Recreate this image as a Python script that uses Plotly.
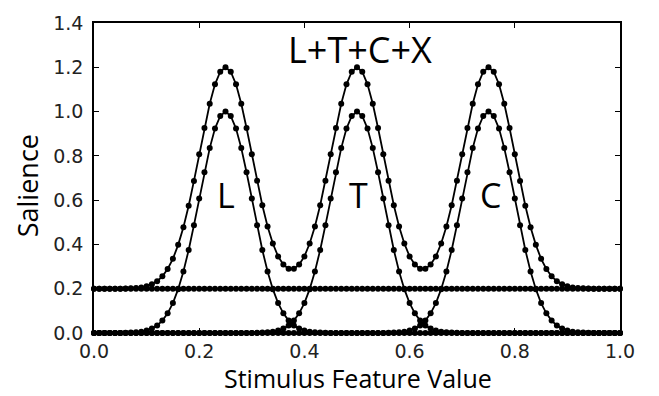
import plotly.graph_objects as go

# Stimulus feature value samples (0.00 .. 1.00, step 0.01)
x_vals = [i / 100 for i in range(101)]

L_vals = [
    0, 0, 0, 0, 0, 0, 0.001, 0.002, 0.003, 0.006,
    0.011, 0.020, 0.034, 0.056, 0.089, 0.135, 0.198, 0.278, 0.375, 0.487,
    0.607, 0.726, 0.835, 0.923, 0.980, 1.000, 0.980, 0.923, 0.835, 0.726,
    0.607, 0.487, 0.375, 0.278, 0.198, 0.135, 0.089, 0.056, 0.034, 0.020,
    0.011, 0.006, 0.003, 0.002, 0.001, 0, 0, 0, 0, 0,
    0, 0, 0, 0, 0, 0, 0, 0, 0, 0,
    0, 0, 0, 0, 0, 0, 0, 0, 0, 0,
    0, 0, 0, 0, 0, 0, 0, 0, 0, 0,
    0, 0, 0, 0, 0, 0, 0, 0, 0, 0,
    0, 0, 0, 0, 0, 0, 0, 0, 0, 0,
    0,
]

T_vals = [
    0, 0, 0, 0, 0, 0, 0, 0, 0, 0,
    0, 0, 0, 0, 0, 0, 0, 0, 0, 0,
    0, 0, 0, 0, 0, 0, 0, 0, 0, 0,
    0, 0.001, 0.002, 0.003, 0.006, 0.011, 0.020, 0.034, 0.056, 0.089,
    0.135, 0.198, 0.278, 0.375, 0.487, 0.607, 0.726, 0.835, 0.923, 0.980,
    1.000, 0.980, 0.923, 0.835, 0.726, 0.607, 0.487, 0.375, 0.278, 0.198,
    0.135, 0.089, 0.056, 0.034, 0.020, 0.011, 0.006, 0.003, 0.002, 0.001,
    0, 0, 0, 0, 0, 0, 0, 0, 0, 0,
    0, 0, 0, 0, 0, 0, 0, 0, 0, 0,
    0, 0, 0, 0, 0, 0, 0, 0, 0, 0,
    0,
]

C_vals = [
    0, 0, 0, 0, 0, 0, 0, 0, 0, 0,
    0, 0, 0, 0, 0, 0, 0, 0, 0, 0,
    0, 0, 0, 0, 0, 0, 0, 0, 0, 0,
    0, 0, 0, 0, 0, 0, 0, 0, 0, 0,
    0, 0, 0, 0, 0, 0, 0, 0, 0, 0,
    0, 0, 0, 0, 0, 0, 0.001, 0.002, 0.003, 0.006,
    0.011, 0.020, 0.034, 0.056, 0.089, 0.135, 0.198, 0.278, 0.375, 0.487,
    0.607, 0.726, 0.835, 0.923, 0.980, 1.000, 0.980, 0.923, 0.835, 0.726,
    0.607, 0.487, 0.375, 0.278, 0.198, 0.135, 0.089, 0.056, 0.034, 0.020,
    0.011, 0.006, 0.003, 0.002, 0.001, 0, 0, 0, 0, 0,
    0,
]

X_vals = [0.2] * 101

SUM_vals = [
    0.200, 0.200, 0.200, 0.200, 0.200, 0.200, 0.201, 0.202, 0.203, 0.206,
    0.211, 0.220, 0.234, 0.256, 0.289, 0.335, 0.398, 0.478, 0.575, 0.687,
    0.807, 0.926, 1.035, 1.123, 1.180, 1.200, 1.180, 1.123, 1.035, 0.926,
    0.807, 0.688, 0.577, 0.481, 0.404, 0.346, 0.309, 0.290, 0.290, 0.309,
    0.346, 0.404, 0.481, 0.577, 0.688, 0.807, 0.926, 1.035, 1.123, 1.180,
    1.200, 1.180, 1.123, 1.035, 0.926, 0.807, 0.688, 0.577, 0.481, 0.404,
    0.346, 0.309, 0.290, 0.290, 0.309, 0.346, 0.404, 0.481, 0.577, 0.688,
    0.807, 0.926, 1.035, 1.123, 1.180, 1.200, 1.180, 1.123, 1.035, 0.926,
    0.807, 0.687, 0.575, 0.478, 0.398, 0.335, 0.289, 0.256, 0.234, 0.220,
    0.211, 0.206, 0.203, 0.202, 0.201, 0.200, 0.200, 0.200, 0.200, 0.200,
    0.200,
]

x_ticks = [0.0, 0.2, 0.4, 0.6, 0.8, 1.0]
y_ticks = [0.0, 0.2, 0.4, 0.6, 0.8, 1.0, 1.2, 1.4]

series = [("X", X_vals), ("L", L_vals), ("T", T_vals), ("C", C_vals), ("L+T+C+X", SUM_vals)]

fig = go.Figure()
for name, vals in series:
    fig.add_trace(go.Scatter(
        x=x_vals, y=vals, name=name, mode="lines+markers",
        line=dict(color="black", width=1.8),
        marker=dict(color="black", size=6),
        showlegend=False, cliponaxis=False,
    ))

W, H = 659, 396
ml, mr, mt, mb = 94, 39, 14, 63
pw, ph = W - ml - mr, H - mt - mb

lf = "Open Sans, Lato, sans-serif"
annotations = [
    dict(text="L+T+C+X", x=0.506, y=1.281, xref="x", yref="y", showarrow=False,
         font=dict(size=36, family=lf, color="black")),
    dict(text="L", x=0.251, y=0.625, xref="x", yref="y", showarrow=False,
         font=dict(size=34, family=lf, color="black")),
    dict(text="T", x=0.502, y=0.625, xref="x", yref="y", showarrow=False,
         font=dict(size=34, family=lf, color="black")),
    dict(text="C", x=0.753, y=0.625, xref="x", yref="y", showarrow=False,
         font=dict(size=34, family=lf, color="black")),
    dict(text="X", x=1.053, y=0.193, xref="x", yref="y", showarrow=False,
         font=dict(size=38, family=lf, color="black")),
    dict(text="Stimulus Feature Value", x=(358 - ml) / pw, y=(H - mb - 379) / ph,
         xref="paper", yref="paper", xanchor="center", yanchor="middle",
         showarrow=False, font=dict(size=25, family=lf, color="black")),
    dict(text="Salience", textangle=-90, x=(27 - ml) / pw, y=(H - mb - 182) / ph,
         xref="paper", yref="paper", xanchor="center", yanchor="middle",
         showarrow=False, font=dict(size=27, family=lf, color="black")),
]

axis_common = dict(
    ticks="inside", ticklen=5, tickwidth=1, tickcolor="black", mirror="ticks",
    showline=True, linecolor="black", linewidth=1.5, showgrid=False, zeroline=False,
    tickfont=dict(family="DejaVu Sans", size=19, color="#222"),
)

fig.update_layout(
    width=W, height=H,
    margin=dict(l=ml, r=mr, t=mt, b=mb),
    plot_bgcolor="white", paper_bgcolor="white",
    annotations=annotations,
    xaxis=dict(range=[0, 1], tickvals=x_ticks, ticktext=[f"{v:.1f}" for v in x_ticks],
               ticklabelstandoff=0, **axis_common),
    yaxis=dict(range=[0, 1.4], tickvals=y_ticks, ticktext=[f"{v:.1f}" for v in y_ticks],
               ticklabelstandoff=5, **axis_common),
)

fig.write_html("out.html")
